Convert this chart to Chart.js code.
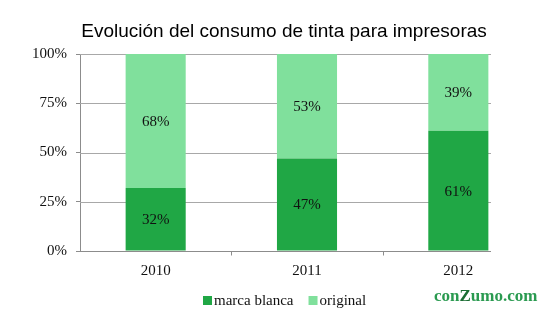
<!DOCTYPE html>
<html>
<head>
<meta charset="utf-8">
<script src="https://cdn.jsdelivr.net/npm/chart.js@4/dist/chart.umd.min.js"></script>
<style>
  html, body { margin: 0; padding: 0; background: #fff; }
  #wrap { width: 559px; height: 327px; position: relative; }
</style>
</head>
<body>
<div id="wrap"><canvas id="c" width="559" height="327"></canvas></div>
<script>
// Years on the x axis
const years = ['2010', '2011', '2012'];
// Share of ink consumption (%), stacked to 100
const marcaBlanca = [32, 47, 61];
const original = [68, 53, 39];
// Y axis ticks
const yTicks = [0, 25, 50, 75, 100];

const titleText = 'Evolución del consumo de tinta para impresoras';

const DARK = '#20a745';
const LIGHT = '#80e09c';
const GRID = '#a8a8a8';
const AXIS = '#8c8c8c';
const SERIF = '"Liberation Serif", "Times New Roman", serif';

// Horizontal gridlines, x axis line and category ticks, stopping just past the last bar
const gridPlugin = {
  id: 'customGrid',
  beforeDatasetsDraw(chart) {
    const { ctx, chartArea, scales } = chart;
    const meta = chart.getDatasetMeta(0);
    const last = meta.data[meta.data.length - 1];
    const right = Math.round(last.x + last.width / 2) + 3;
    ctx.save();
    ctx.lineWidth = 1;
    ctx.strokeStyle = GRID;
    yTicks.forEach(v => {
      if (v === 0) return;
      const y = Math.round(scales.y.getPixelForValue(v)) + 0.5;
      ctx.beginPath();
      ctx.moveTo(chartArea.left, y);
      ctx.lineTo(right, y);
      ctx.stroke();
    });
    // x axis line
    ctx.strokeStyle = AXIS;
    const yb = Math.round(scales.y.getPixelForValue(0)) + 0.5;
    ctx.beginPath();
    ctx.moveTo(chartArea.left - 4, yb);
    ctx.lineTo(right, yb);
    ctx.stroke();
    // tick marks between categories
    for (let i = 1; i < years.length; i++) {
      const x = Math.round((scales.x.getPixelForValue(i - 1) + scales.x.getPixelForValue(i)) / 2) + 0.5;
      ctx.beginPath();
      ctx.moveTo(x, yb);
      ctx.lineTo(x, yb + 4);
      ctx.stroke();
    }
    ctx.restore();
  },
  afterDatasetsDraw(chart) {
    const { ctx } = chart;
    ctx.save();
    ctx.font = '15px ' + SERIF;
    ctx.fillStyle = '#111';
    ctx.textAlign = 'center';
    ctx.textBaseline = 'middle';
    chart.data.datasets.forEach((ds, di) => {
      const meta = chart.getDatasetMeta(di);
      meta.data.forEach((bar, i) => {
        const y = (bar.y + bar.base) / 2 + 1;
        ctx.fillText(ds.data[i] + '%', bar.x, y);
      });
    });
    ctx.restore();
  },
  afterDraw(chart) {
    const { ctx } = chart;
    ctx.save();
    // title
    ctx.font = '19px "Liberation Sans", Arial, sans-serif';
    ctx.fillStyle = '#000';
    ctx.textAlign = 'center';
    ctx.textBaseline = 'alphabetic';
    ctx.fillText(titleText, 284, 37);

    // legend
    ctx.font = '15px ' + SERIF;
    ctx.textAlign = 'left';
    let x = 203;
    const baseY = 305;
    chart.data.datasets.forEach((ds, i) => {
      ctx.fillStyle = ds.backgroundColor;
      ctx.fillRect(x, 296, 9, 9);
      ctx.fillStyle = '#111';
      ctx.fillText(ds.label, x + 11, baseY);
      x += 11 + ctx.measureText(ds.label).width + 15;
    });

    // brand mark
    ctx.font = 'bold 17px ' + SERIF;
    const parts = [['con', '#2a9a50'], ['Z', '#1b6d33'], ['umo.com', '#2a9a50']];
    let bx = 434;
    parts.forEach(([t, c]) => {
      ctx.fillStyle = c;
      ctx.fillText(t, bx, 301);
      bx += ctx.measureText(t).width;
    });
    ctx.restore();
  }
};

new Chart(document.getElementById('c'), {
  type: 'bar',
  data: {
    labels: years,
    datasets: [
      { label: 'marca blanca', data: marcaBlanca, backgroundColor: DARK, borderWidth: 0 },
      { label: 'original', data: original, backgroundColor: LIGHT, borderWidth: 0 }
    ]
  },
  options: {
    responsive: false,
    animation: false,
    devicePixelRatio: 1,
    layout: { padding: { top: 54, right: 25, bottom: 0, left: 0 } },
    plugins: {
      legend: { display: false },
      title: { display: false },
      tooltip: { enabled: false }
    },
    datasets: { bar: { categoryPercentage: 1, barPercentage: 0.397 } },
    scales: {
      x: {
        stacked: true,
        grid: { display: false, drawTicks: false },
        border: { display: false },
        ticks: { color: '#111', font: { family: SERIF, size: 15 }, padding: 11 },
        afterFit(scale) { scale.height = 76; }
      },
      y: {
        stacked: true,
        min: 0,
        max: 100,
        grid: { drawOnChartArea: false, drawTicks: true, tickLength: 4, color: AXIS },
        border: { display: true, color: AXIS },
        ticks: {
          stepSize: 25,
          color: '#111',
          font: { family: SERIF, size: 15 },
          padding: 9,
          callback: v => v + '%'
        },
        afterFit(scale) { scale.width = 80; }
      }
    }
  },
  plugins: [gridPlugin]
});
</script>
</body>
</html>
